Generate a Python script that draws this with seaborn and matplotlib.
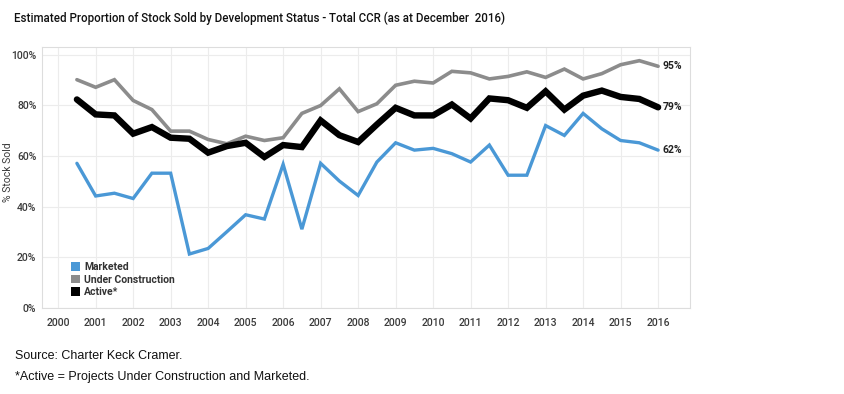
import matplotlib
matplotlib.use("Agg")
import matplotlib.pyplot as plt
from matplotlib.patches import Patch
import seaborn as sns
import pandas as pd
import numpy as np

# ---- data (semi-annual) ----
periods = [2000.5, 2001.0, 2001.5, 2002.0, 2002.5, 2003.0, 2003.5, 2004.0,
           2004.5, 2005.0, 2005.5, 2006.0, 2006.5, 2007.0, 2007.5, 2008.0,
           2008.5, 2009.0, 2009.5, 2010.0, 2010.5, 2011.0, 2011.5, 2012.0,
           2012.5, 2013.0, 2013.5, 2014.0, 2014.5, 2015.0, 2015.5, 2016.0]
marketed = [57.1, 44.2, 45.3, 43.2, 53.2, 53.2, 21.3, 23.5,
            30.1, 36.8, 35.1, 56.7, 31.1, 57.1, 50.1, 44.4,
            57.6, 65.2, 62.3, 63.0, 60.9, 57.6, 64.3, 52.4,
            52.4, 72.0, 68.1, 76.8, 70.7, 66.1, 65.2, 62.3]
under_construction = [90.1, 87.1, 90.1, 81.9, 78.3, 69.8, 69.8, 66.5,
                      64.8, 67.8, 66.1, 67.2, 76.8, 79.9, 86.5, 77.5,
                      80.6, 87.9, 89.5, 88.8, 93.4, 92.8, 90.4, 91.4,
                      93.2, 91.0, 94.3, 90.4, 92.5, 96.0, 97.6, 95.4]
active = [82.3, 76.4, 76.0, 68.8, 71.4, 67.2, 66.8, 61.3,
          63.9, 65.2, 59.6, 64.3, 63.5, 74.0, 68.2, 65.5,
          72.4, 79.0, 76.0, 76.0, 80.3, 74.8, 82.7, 82.0,
          79.0, 85.5, 78.3, 83.8, 85.8, 83.3, 82.5, 79.2]
series_names = ["Marketed", "Under Construction", "Active*"]
end_labels = ["62%", "95%", "79%"]
year_ticks = list(range(2000, 2017))
y_ticks = [0, 20, 40, 60, 80, 100]

colors = {"Marketed": "#4a98d6", "Under Construction": "#8c8c8c", "Active*": "#000000"}
widths = {"Marketed": 2.4, "Under Construction": 2.6, "Active*": 4.6}

df = pd.DataFrame({"period": periods * 3,
                   "value": marketed + under_construction + active,
                   "series": sum([[n] * len(periods) for n in series_names], [])})

sns.set_theme(style="white")
cond = ["Roboto", "DejaVu Sans"]
plt.rcParams["font.family"] = ["Liberation Sans", "DejaVu Sans"]

fig = plt.figure(figsize=(8.44, 3.94), dpi=100)
ax = fig.add_axes([0.0498, 0.2183, 0.8175 - 0.0498, 0.8807 - 0.2183])

for name in ["Marketed", "Under Construction", "Active*"]:
    sub = df[df["series"] == name]
    sns.lineplot(data=sub, x="period", y="value", ax=ax, color=colors[name],
                 linewidth=widths[name], legend=False, solid_joinstyle="miter",
                 solid_capstyle="round")

ax.set_xlim(1999.57, 2016.85)
ax.set_ylim(0, 103)
ax.set_xticks(year_ticks)
ax.set_xticklabels([str(y) for y in year_ticks], fontfamily=cond, fontsize=7.5,
                   fontweight="medium", color="#3a3a3a")
ax.set_yticks(y_ticks)
ax.set_yticklabels([f"{v}%" for v in y_ticks], fontfamily=cond, fontsize=7.5,
                   fontweight="medium", color="#3a3a3a")
ax.tick_params(axis="x", length=0, pad=7)
ax.tick_params(axis="y", length=0, pad=4)
ax.set_xlabel("")
ax.set_ylabel("% Stock Sold", fontfamily=cond, fontsize=7.5, color="#3a3a3a",
              va="center", ha="center")
ax.yaxis.set_label_coords(-0.052, 0.52)
ax.grid(True, color="#ececec", linewidth=0.8)
for s in ax.spines.values():
    s.set_color("#dddddd")
    s.set_linewidth(0.8)

# end labels
for name, vals, lab in zip(series_names, [marketed, under_construction, active], end_labels):
    ax.annotate(lab, xy=(periods[-1], vals[-1]), xytext=(3, 0), textcoords="offset points",
                fontfamily=cond, fontsize=7.5, fontweight="bold", color="#222222",
                va="center", ha="left")

handles = [Patch(facecolor=colors[n], edgecolor="none", label=n) for n in series_names]
leg = ax.legend(handles=handles, loc="lower left", bbox_to_anchor=(0.03, 0.005),
                frameon=False, handlelength=0.9, handleheight=0.9, handletextpad=0.4,
                labelspacing=0.25, prop={"family": cond, "size": 7.5, "weight": "bold"})
for t in leg.get_texts():
    t.set_color("#333333")

fig.text(14 / 844, 1 - 18 / 394, "Estimated Proportion of Stock Sold by Development Status - Total CCR (as at December  2016)",
         fontfamily=["Roboto", "DejaVu Sans"], fontsize=8.3, fontweight="medium",
         color="#111111", va="center", ha="left")
fig.text(15 / 844, 1 - 356 / 394, "Source: Charter Keck Cramer.", fontsize=9,
         color="#111111", va="center", ha="left")
fig.text(15 / 844, 1 - 377 / 394, "*Active = Projects Under Construction and Marketed.",
         fontsize=9, color="#111111", va="center", ha="left")

fig.savefig("out.png", dpi=100)
